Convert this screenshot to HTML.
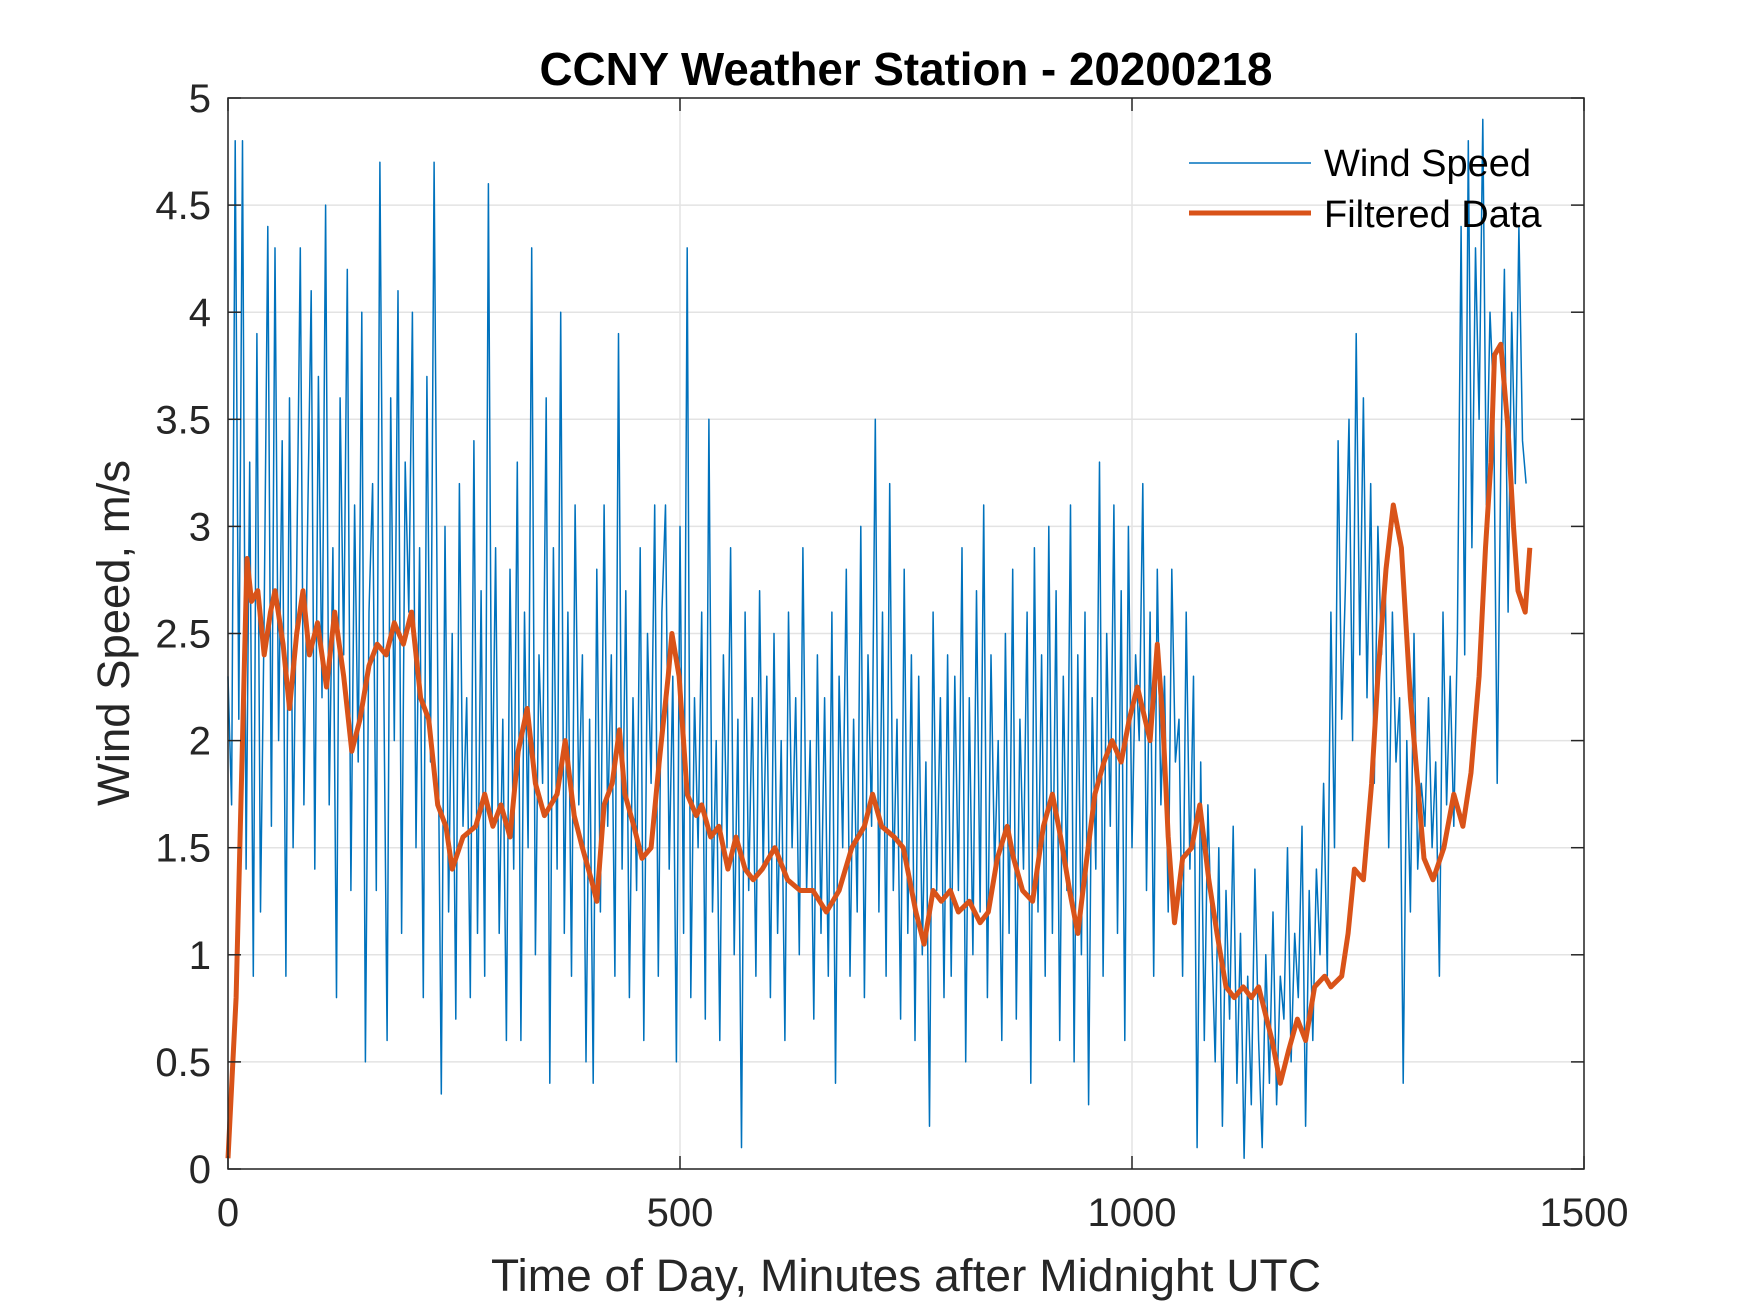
<!DOCTYPE html>
<html><head><meta charset="utf-8"><style>
html,body{margin:0;padding:0;background:#fff;}
svg{display:block;font-family:"Liberation Sans",Arial,sans-serif;}
</style></head><body>
<svg id="chart" width="1750" height="1313" viewBox="0 0 1750 1313" xmlns="http://www.w3.org/2000/svg">
<rect width="1750" height="1313" fill="#fff"/>
<g id="grid"></g>
<g id="series"></g>
<g id="axes"></g>
<text x="906" y="85" font-size="46" font-weight="bold" text-anchor="middle" fill="#000" textLength="733" lengthAdjust="spacingAndGlyphs">CCNY Weather Station - 20200218</text>
<text x="906" y="1291" font-size="45" text-anchor="middle" fill="#262626" textLength="830" lengthAdjust="spacingAndGlyphs">Time of Day, Minutes after Midnight UTC</text>
<text transform="translate(129,633) rotate(-90)" font-size="45" text-anchor="middle" fill="#262626" textLength="346" lengthAdjust="spacingAndGlyphs">Wind Speed, m/s</text>
<g>
<line x1="1189" y1="163" x2="1311" y2="163" stroke="#0072BD" stroke-width="1.5"/>
<text x="1324" y="176" font-size="38" fill="#000">Wind Speed</text>
<line x1="1189" y1="213" x2="1311" y2="213" stroke="#D95319" stroke-width="5"/>
<text x="1324" y="227" font-size="38" fill="#000">Filtered Data</text>
</g>
</svg>
<script>
const xTicks=[0,500,1000,1500];
const yTicks=[0,0.5,1,1.5,2,2.5,3,3.5,4,4.5,5];
const yTickLabels=["0","0.5","1","1.5","2","2.5","3","3.5","4","4.5","5"];
const rawStep=4;
const rawSpeed=[
2.3,1.7,4.8,2.1,4.8,1.4,3.3,0.9,3.9,1.2,2.6,4.4,1.6,4.3,2.0,3.4,0.9,3.6,1.5,2.8,
4.3,1.7,3.0,4.1,1.4,3.7,2.2,4.5,1.7,2.9,0.8,3.6,2.4,4.2,1.3,3.1,1.9,4.0,0.5,2.6,
3.2,1.3,4.7,2.4,0.6,3.6,2.0,4.1,1.1,3.3,2.6,4.0,1.5,2.9,0.8,3.7,1.9,4.7,2.3,0.35,
3.0,1.2,2.5,0.7,3.2,1.6,2.2,0.8,3.4,1.1,2.7,0.9,4.6,1.6,2.9,1.1,2.1,0.6,2.8,1.4,
3.3,0.6,2.6,1.5,4.3,1.0,2.4,1.8,3.6,0.4,2.9,1.4,4.0,1.1,2.6,0.9,3.1,1.7,2.4,0.5,
2.1,0.4,2.8,1.2,3.1,1.6,2.4,0.9,3.9,1.4,2.7,0.8,2.2,1.3,2.9,0.6,2.5,1.8,3.1,0.9,
2.6,3.1,1.4,2.3,0.5,3.0,1.1,4.3,0.8,2.2,1.5,2.6,0.7,3.5,1.2,2.0,0.6,2.4,1.5,2.9,
1.0,2.1,0.1,2.6,1.3,2.2,0.9,2.7,1.4,2.3,0.8,2.5,1.1,2.0,0.6,2.6,1.5,2.2,1.0,2.9,
1.3,2.0,0.7,2.4,1.1,2.2,0.9,2.6,0.4,2.3,1.5,2.8,0.9,2.1,1.2,3.0,0.8,2.4,1.6,3.5,
1.2,2.6,0.9,3.2,1.3,2.1,0.7,2.8,1.1,2.4,0.6,2.3,1.0,1.9,0.2,2.6,1.3,2.2,0.8,2.4,
0.9,2.3,1.3,2.9,0.5,2.2,1.0,2.7,1.2,3.1,0.8,2.4,1.4,2.0,0.6,2.5,1.1,2.8,0.7,2.1,
1.4,2.6,0.4,2.9,1.2,2.4,0.9,3.0,1.1,2.7,0.6,2.3,1.3,3.1,0.5,2.4,1.0,2.6,0.3,2.2,
1.4,3.3,0.9,2.5,1.6,3.1,1.1,2.7,0.6,3.0,1.5,2.4,2.0,3.2,1.3,2.6,0.9,2.8,1.7,2.3,
1.2,2.8,1.9,2.1,0.9,2.6,1.4,2.3,0.1,1.9,0.6,1.7,1.1,0.5,1.5,0.2,1.3,0.7,1.6,0.4,
1.1,0.05,0.9,0.3,1.4,0.6,0.1,1.0,0.4,1.2,0.3,0.9,0.7,1.5,0.5,1.1,0.8,1.6,0.2,1.3,
0.6,1.4,1.0,1.8,0.9,2.6,1.5,3.4,2.1,2.7,3.5,2.0,3.9,2.4,3.6,2.2,3.2,1.8,3.0,2.4,
2.8,1.5,2.6,1.9,2.2,0.4,2.0,1.2,2.5,1.4,1.8,1.6,2.2,1.5,1.9,0.9,2.6,1.7,2.3,1.6,
2.5,4.4,2.4,4.8,2.9,4.3,3.5,4.9,3.1,4.0,3.6,1.8,3.3,4.2,2.6,4.0,3.2,4.4,3.4,3.2];
const filtT=[0,9,21,26,33,40,47,52,61,68,76,83,90,99,109,118,128,137,146,156,165,175,184,194,203,213,222,232,241,248,260,274,284,293,302,312,321,331,340,350,364,373,383,392,402,408,416,425,433,439,449,458,468,477,487,491,499,508,518,524,534,543,553,562,572,581,591,605,619,633,647,662,676,690,704,713,723,737,747,761,770,780,789,799,808,820,832,841,851,862,869,879,890,902,912,921,931,940,950,959,969,978,988,997,1006,1020,1028,1034,1040,1047,1056,1066,1075,1085,1094,1104,1113,1123,1132,1140,1155,1164,1173,1183,1192,1202,1213,1220,1232,1239,1246,1256,1265,1272,1281,1289,1298,1308,1317,1323,1333,1345,1356,1366,1375,1384,1391,1397,1401,1408,1416,1422,1427,1435,1440];
const filtV=[0.05,0.8,2.85,2.65,2.7,2.4,2.6,2.7,2.45,2.15,2.5,2.7,2.4,2.55,2.25,2.6,2.3,1.95,2.1,2.35,2.45,2.4,2.55,2.45,2.6,2.2,2.1,1.7,1.6,1.4,1.55,1.6,1.75,1.6,1.7,1.55,1.95,2.15,1.8,1.65,1.75,2.0,1.65,1.5,1.35,1.25,1.7,1.8,2.05,1.75,1.6,1.45,1.5,1.9,2.3,2.5,2.3,1.75,1.65,1.7,1.55,1.6,1.4,1.55,1.4,1.35,1.4,1.5,1.35,1.3,1.3,1.2,1.3,1.5,1.6,1.75,1.6,1.55,1.5,1.2,1.05,1.3,1.25,1.3,1.2,1.25,1.15,1.2,1.45,1.6,1.45,1.3,1.25,1.6,1.75,1.55,1.3,1.1,1.45,1.75,1.9,2.0,1.9,2.1,2.25,2.0,2.45,2.1,1.55,1.15,1.45,1.5,1.7,1.35,1.1,0.85,0.8,0.85,0.8,0.85,0.6,0.4,0.55,0.7,0.6,0.85,0.9,0.85,0.9,1.1,1.4,1.35,1.8,2.3,2.8,3.1,2.9,2.2,1.75,1.45,1.35,1.5,1.75,1.6,1.85,2.3,2.9,3.3,3.8,3.85,3.45,3.0,2.7,2.6,2.9,3.15];

const L=228,R=1584,T=98,B=1169;
const xs=v=>L+(v-0)/1500*(R-L);
const ys=v=>B-(v-0)/5*(B-T);
const NS="http://www.w3.org/2000/svg";
function mk(tag,attrs,parent){const e=document.createElementNS(NS,tag);for(const k in attrs)e.setAttribute(k,attrs[k]);parent.appendChild(e);return e;}
const grid=document.getElementById('grid'),axes=document.getElementById('axes'),series=document.getElementById('series');
xTicks.forEach(t=>{
  const g=mk('line',{x1:xs(t),x2:xs(t),y1:T,y2:B,stroke:'#e3e3e3','stroke-width':1.5},grid);
  
  
  const a=mk('line',{x1:xs(t),x2:xs(t),y1:B,y2:B-13,stroke:'#262626','stroke-width':1.5},axes);
  
  
  const b=mk('line',{x1:xs(t),x2:xs(t),y1:T,y2:T+13,stroke:'#262626','stroke-width':1.5},axes);
  
  
  const tx=mk('text',{x:xs(t),y:1226,'font-size':40,'text-anchor':'middle',fill:'#262626'},axes);
  tx.textContent=String(t);
  
  
});
yTicks.forEach((t,i)=>{
  const g=mk('line',{x1:L,x2:R,y1:ys(t),y2:ys(t),stroke:'#e3e3e3','stroke-width':1.5},grid);
  
  
  const a=mk('line',{x1:L,x2:L+13,y1:ys(t),y2:ys(t),stroke:'#262626','stroke-width':1.5},axes);
  
  
  const b=mk('line',{x1:R,x2:R-13,y1:ys(t),y2:ys(t),stroke:'#262626','stroke-width':1.5},axes);
  
  
  const tx=mk('text',{x:211,y:ys(t)+14,'font-size':40,'text-anchor':'end',fill:'#262626'},axes);
  tx.textContent=yTickLabels[i];
  
  
});
const box=mk('rect',{x:L,y:T,width:R-L,height:B-T,fill:'none',stroke:'#262626','stroke-width':1.5},axes);


const rawPts=rawSpeed.map((v,i)=>xs(i*rawStep).toFixed(1)+','+ys(v).toFixed(1)).join(' ');
const rawLine=mk('polyline',{points:rawPts,fill:'none',stroke:'#0072BD','stroke-width':1.5,'stroke-linejoin':'round'},series);


const fPts=filtT.map((t,i)=>xs(t).toFixed(1)+','+ys(filtV[i]).toFixed(1)).join(' ');
const fLine=mk('polyline',{points:fPts,fill:'none',stroke:'#D95319','stroke-width':5,'stroke-linejoin':'round'},series);


</script>
</body></html>
